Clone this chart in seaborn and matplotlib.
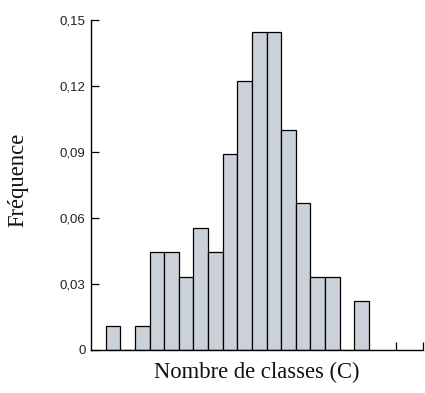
import numpy as np
import pandas as pd
import matplotlib
matplotlib.use("Agg")
import matplotlib.pyplot as plt
import seaborn as sns

# Class positions (one bar per class) and observed frequencies (counts / 90)
classes = [1, 2, 3, 4, 5, 6, 7, 8, 9, 10, 11, 12, 13, 14, 15, 16, 17, 18]
counts = [1, 0, 1, 4, 4, 3, 5, 4, 8, 11, 13, 13, 9, 6, 3, 3, 0, 2]
total = 90
frequence = [c / total for c in counts]

y_ticks = [0, 0.03, 0.06, 0.09, 0.12, 0.15]
y_ticklabels = ["0", "0,03", "0,06", "0,09", "0,12", "0,15"]

sns.set_style("ticks")
plt.rcParams["font.family"] = ["Liberation Sans", "DejaVu Sans"]

df = pd.DataFrame({"classe": classes, "frequence": frequence})

fig = plt.figure(figsize=(4.25, 3.93), dpi=100)
ax = fig.add_axes([91 / 425, 43 / 393, 332 / 425, 330 / 393])

sns.histplot(data=df, x="classe", weights="frequence", discrete=True,
             stat="count", color="#cad1d8", edgecolor="black",
             linewidth=0.9, alpha=1.0, ax=ax)

ax.set_xlim(-0.5, 22.2)
ax.set_ylim(0, 0.15)

ax.set_yticks(y_ticks)
ax.set_yticklabels(y_ticklabels, fontsize=9.5, color="#222222")
ax.set_xticks([20.37, 22.2])
ax.set_xticklabels([])
ax.tick_params(axis="both", direction="in", length=5.5, width=0.9,
               color="black")
ax.tick_params(axis="y", pad=4)

for side in ("top", "right"):
    ax.spines[side].set_visible(False)
for side in ("left", "bottom"):
    ax.spines[side].set_linewidth(1.0)
    ax.spines[side].set_color("black")

serif = ["Liberation Serif", "DejaVu Serif"]
ax.set_xlabel("Nombre de classes (C)", family=serif, fontsize=16.3,
              color="#111111")
ax.set_ylabel("Fréquence", family=serif, fontsize=16.3, color="#111111")
ax.xaxis.set_label_coords(0.5, -0.035)
ax.xaxis.label.set_verticalalignment("top")
ax.yaxis.set_label_coords(-0.19, 0.515)

fig.savefig("out.png", dpi=100)
